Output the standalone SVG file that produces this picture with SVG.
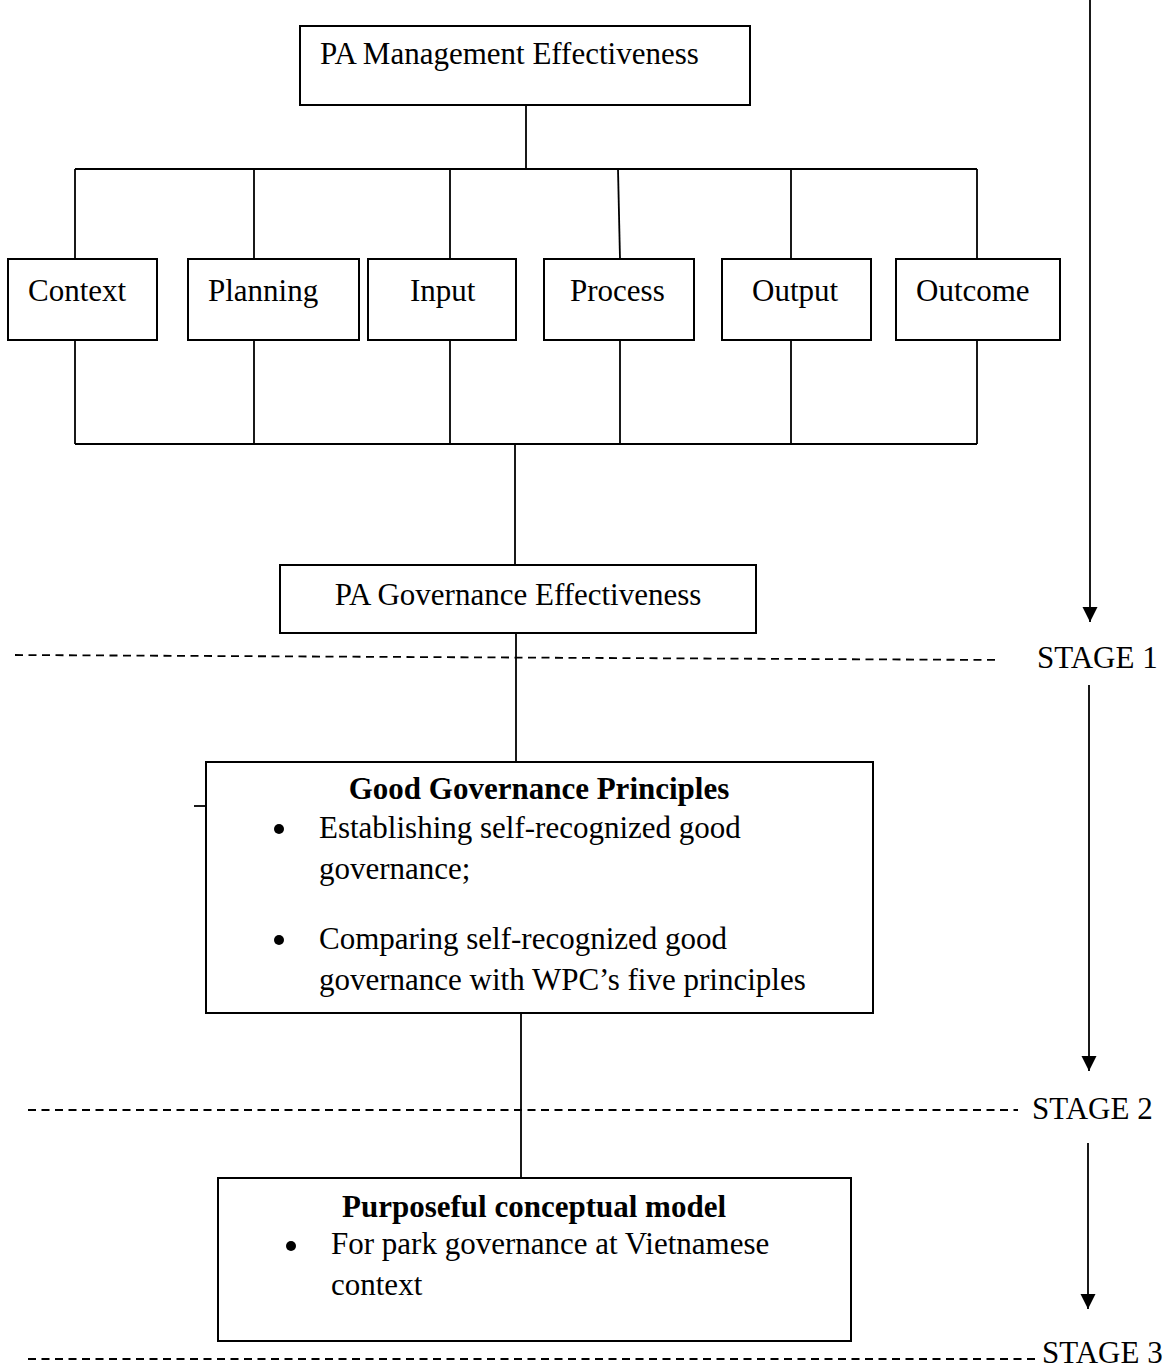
<svg xmlns="http://www.w3.org/2000/svg" width="1166" height="1369" viewBox="0 0 1166 1369">
<defs>
<style>
.box{fill:#fff;stroke:#000;stroke-width:2}
.ln{fill:none;stroke:#000;stroke-width:1.8}
.dash{fill:none;stroke:#000;stroke-width:1.8;stroke-dasharray:8 5.5}
.t{font-family:"Liberation Serif","Times New Roman",serif;font-size:31px;fill:#000}
.b{font-weight:bold}
.m{text-anchor:middle}
</style>
<marker id="ah" markerWidth="16" markerHeight="16" refX="15" refY="7.5" orient="auto" markerUnits="userSpaceOnUse">
<path d="M0,0 L15,7.5 L0,15 Z" fill="#000"/>
</marker>
</defs>
<rect width="1166" height="1369" fill="#fff"/>

<g id="connectors">
<line class="ln" x1="526" y1="105" x2="526" y2="169"/>
<line class="ln" x1="75" y1="169" x2="977" y2="169"/>
<line class="ln" x1="75" y1="169" x2="75" y2="259"/>
<line class="ln" x1="254" y1="169" x2="254" y2="259"/>
<line class="ln" x1="450" y1="169" x2="450" y2="259"/>
<line class="ln" x1="618" y1="169" x2="620" y2="259"/>
<line class="ln" x1="791" y1="169" x2="791" y2="259"/>
<line class="ln" x1="977" y1="169" x2="977" y2="259"/>
<line class="ln" x1="75" y1="340" x2="75" y2="444"/>
<line class="ln" x1="254" y1="340" x2="254" y2="444"/>
<line class="ln" x1="450" y1="340" x2="450" y2="444"/>
<line class="ln" x1="620" y1="340" x2="620" y2="444"/>
<line class="ln" x1="791" y1="340" x2="791" y2="444"/>
<line class="ln" x1="977" y1="340" x2="977" y2="444"/>
<line class="ln" x1="75" y1="444" x2="977" y2="444"/>
<line class="ln" x1="515" y1="444" x2="515" y2="565"/>
<line class="ln" x1="516" y1="633" x2="516" y2="762"/>
<line class="ln" x1="194" y1="806" x2="206" y2="806"/>
<line class="ln" x1="521" y1="1013" x2="521" y2="1178"/>
<line class="ln" x1="1090" y1="0" x2="1090" y2="622" marker-end="url(#ah)"/>
<line class="ln" x1="1089" y1="685" x2="1089" y2="1071" marker-end="url(#ah)"/>
<line class="ln" x1="1088" y1="1143" x2="1088" y2="1309" marker-end="url(#ah)"/>
<line class="dash" x1="15" y1="655" x2="1000" y2="660"/>
<line class="dash" x1="28" y1="1110" x2="1018" y2="1110"/>
<line class="dash" x1="28" y1="1359" x2="1036" y2="1359"/>
</g>

<g id="pa-management">
<rect class="box" x="300" y="26" width="450" height="79"/>
<text class="t" x="320" y="64">PA Management Effectiveness</text>
</g>
<g id="context">
<rect class="box" x="8" y="259" width="149" height="81"/>
<text class="t" x="28" y="301">Context</text>
</g>
<g id="planning">
<rect class="box" x="188" y="259" width="171" height="81"/>
<text class="t" x="208" y="301">Planning</text>
</g>
<g id="input">
<rect class="box" x="368" y="259" width="148" height="81"/>
<text class="t" x="410" y="301">Input</text>
</g>
<g id="process">
<rect class="box" x="544" y="259" width="150" height="81"/>
<text class="t" x="570" y="301">Process</text>
</g>
<g id="output">
<rect class="box" x="722" y="259" width="149" height="81"/>
<text class="t" x="752" y="301">Output</text>
</g>
<g id="outcome">
<rect class="box" x="896" y="259" width="164" height="81"/>
<text class="t" x="916" y="301">Outcome</text>
</g>
<g id="pa-governance">
<rect class="box" x="280" y="565" width="476" height="68"/>
<text class="t m" x="518" y="605">PA Governance Effectiveness</text>
</g>
<g id="good-governance">
<rect class="box" x="206" y="762" width="667" height="251"/>
<text class="t b m" x="539" y="799">Good Governance Principles</text>
<circle cx="279" cy="829" r="5"/>
<text class="t" x="319" y="838">Establishing self-recognized good</text>
<text class="t" x="319" y="879">governance;</text>
<circle cx="279" cy="940" r="5"/>
<text class="t" x="319" y="949">Comparing self-recognized good</text>
<text class="t" x="319" y="990">governance with WPC’s five principles</text>
</g>
<g id="purposeful-model">
<rect class="box" x="218" y="1178" width="633" height="163"/>
<text class="t b m" x="534" y="1217">Purposeful conceptual model</text>
<circle cx="291" cy="1246" r="5"/>
<text class="t" x="331" y="1254">For park governance at Vietnamese</text>
<text class="t" x="331" y="1295">context</text>
</g>
<g id="stages">
<text class="t" x="1037" y="668">STAGE 1</text>
<text class="t" x="1032" y="1119">STAGE 2</text>
<text class="t" x="1042" y="1363">STAGE 3</text>
</g>
</svg>
